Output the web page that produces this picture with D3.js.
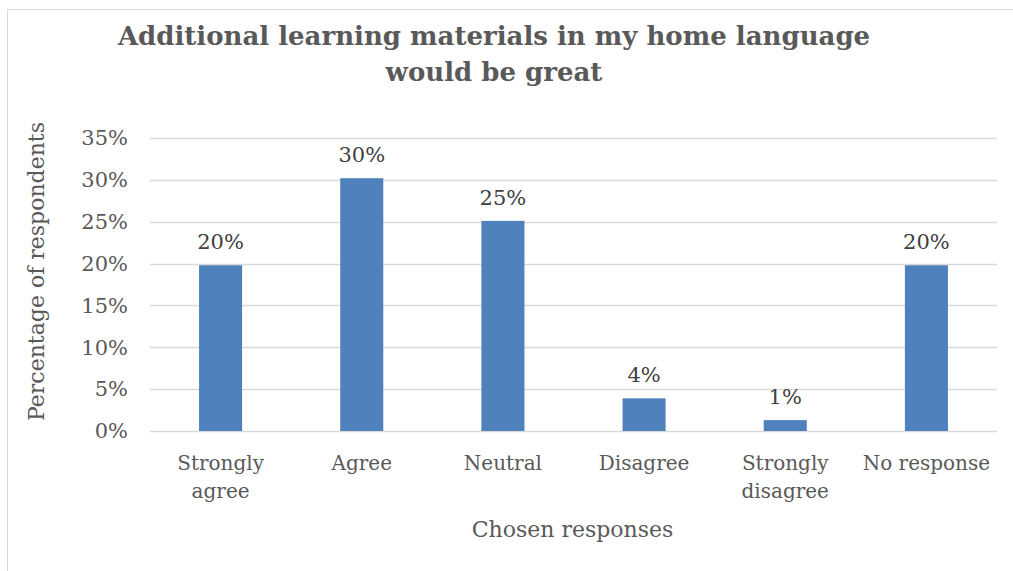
<!DOCTYPE html>
<html>
<head>
<meta charset="utf-8">
<script src="https://cdn.jsdelivr.net/npm/d3@7"></script>
<style>
  html, body { margin: 0; padding: 0; background: #fff; }
  svg { display: block; }
</style>
</head>
<body>
<svg id="chart" width="1013" height="571"></svg>
<script>
// Survey responses: share of respondents per answer
const categories = ["Strongly agree", "Agree", "Neutral", "Disagree", "Strongly disagree", "No response"];
const categoryLines = [["Strongly", "agree"], ["Agree"], ["Neutral"], ["Disagree"], ["Strongly", "disagree"], ["No response"]];
const percentages = [0.198, 0.302, 0.251, 0.039, 0.013, 0.198];
const yTicks = [0, 0.05, 0.10, 0.15, 0.20, 0.25, 0.30, 0.35];
const titleLines = ["Additional learning materials in my home language", "would be great"];
const xAxisTitle = "Chosen responses";
const yAxisTitle = "Percentage of respondents";

const FONT = "'DejaVu Serif', serif";
const TEXT = "#595959";

const svg = d3.select("#chart");
const plot = { left: 150, right: 997, top: 138, bottom: 431 };

// chart area frame
svg.append("rect")
  .attr("x", 7.5).attr("y", 9.5)
  .attr("width", 1100).attr("height", 700)
  .attr("fill", "#fff").attr("stroke", "#d9d9d9").attr("stroke-width", 1);

const x = d3.scaleBand().domain(categories).range([plot.left, plot.right]).paddingInner(0.695).paddingOuter(0.3475);
const y = d3.scaleLinear().domain([0, 0.35]).range([plot.bottom, plot.top]);

// horizontal gridlines
svg.append("g").selectAll("line").data(yTicks).join("line")
  .attr("x1", plot.left).attr("x2", plot.right)
  .attr("y1", d => Math.round(y(d)) + 0.5).attr("y2", d => Math.round(y(d)) + 0.5)
  .attr("stroke", "#d9d9d9").attr("stroke-width", 1.5);

// y axis tick labels
const yAxis = d3.axisLeft(y).tickValues(yTicks).tickFormat(d3.format(".0%")).tickSize(0).tickPadding(0);
const gy = svg.append("g").attr("transform", `translate(128,0)`).call(yAxis);
gy.select(".domain").remove();
gy.selectAll("text").attr("font-family", FONT).attr("font-size", 21).attr("fill", TEXT);

// bars
svg.append("g").selectAll("rect").data(categories).join("rect")
  .attr("x", d => x(d))
  .attr("width", x.bandwidth())
  .attr("y", (d, i) => y(percentages[i]))
  .attr("height", (d, i) => y(0) - y(percentages[i]))
  .attr("fill", "#4f81bd");

// value labels
svg.append("g").selectAll("text").data(categories).join("text")
  .attr("x", d => x(d) + x.bandwidth() / 2)
  .attr("y", (d, i) => y(percentages[i]) - 16)
  .attr("text-anchor", "middle")
  .attr("font-family", FONT).attr("font-size", 21).attr("fill", "#404040")
  .text((d, i) => d3.format(".0%")(percentages[i]));

// category labels
const xl = svg.append("g").selectAll("text").data(categories).join("text")
  .attr("x", d => x(d) + x.bandwidth() / 2)
  .attr("y", 470)
  .attr("text-anchor", "middle")
  .attr("font-family", FONT).attr("font-size", 20).attr("fill", TEXT);
xl.each(function(d, i) {
  const t = d3.select(this);
  categoryLines[i].forEach((line, j) => {
    t.append("tspan").attr("x", x(d) + x.bandwidth() / 2).attr("dy", j === 0 ? 0 : 28).text(line);
  });
});

// axis titles
svg.append("text")
  .attr("x", (plot.left + plot.right) / 2 - 1).attr("y", 537)
  .attr("text-anchor", "middle")
  .attr("font-family", FONT).attr("font-size", 22).attr("fill", TEXT)
  .text(xAxisTitle);

svg.append("text")
  .attr("transform", `translate(44,${(plot.top + plot.bottom) / 2 - 13}) rotate(-90)`)
  .attr("text-anchor", "middle")
  .attr("font-family", FONT).attr("font-size", 22).attr("fill", TEXT)
  .text(yAxisTitle);

// chart title
svg.append("g").selectAll("text").data(titleLines).join("text")
  .attr("x", 494).attr("y", (d, i) => 45 + i * 36)
  .attr("text-anchor", "middle")
  .attr("font-family", FONT).attr("font-weight", "bold").attr("font-size", 26).attr("fill", TEXT)
  .text(d => d);
</script>
</body>
</html>
